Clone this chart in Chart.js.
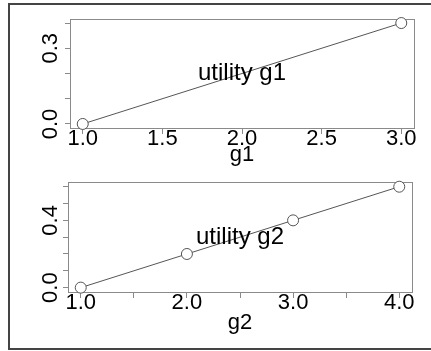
<!DOCTYPE html>
<html>
<head>
<meta charset="utf-8">
<script src="https://cdn.jsdelivr.net/npm/chart.js@4"></script>
<style>
    html, body { margin: 0; padding: 0; background: #fff; overflow: hidden; }
    #wrap { position: relative; width: 431px; height: 351px; }
    #frame {
        position: absolute; left: 8px; top: 3px; width: 440px; height: 347px;
        border-left: 2px solid #444; border-top: 2px solid #444; border-bottom: 2px solid #444;
        box-sizing: border-box;
    }
    canvas { position: absolute; left: 0; }
    #panelG1 { top: 0; }
    #panelG2 { top: 175px; }
</style>
</head>
<body>
<div id="wrap">
    <div id="frame"></div>
    <canvas id="panelG1" width="431" height="175"></canvas>
    <canvas id="panelG2" width="431" height="176"></canvas>
</div>
<script>
// values
const g1Levels = [1.0, 3.0];
const g1Utility = [0.0, 0.4];
const g2Levels = [1.0, 2.0, 3.0, 4.0];
const g2Utility = [0.0, 0.2, 0.4, 0.6];

// axis ticks
const g1XTicks = [1.0, 1.5, 2.0, 2.5, 3.0];
const g1XLabels = ['1.0', '1.5', '2.0', '2.5', '3.0'];
const g1YTicks = [0.0, 0.1, 0.2, 0.3, 0.4];
const g1YLabels = ['0.0', '', '', '0.3', ''];

const g2XTicks = [1.0, 1.5, 2.0, 2.5, 3.0, 3.5, 4.0];
const g2XLabels = ['1.0', '', '2.0', '', '3.0', '', '4.0'];
const g2YTicks = [0.0, 0.1, 0.2, 0.3, 0.4, 0.5, 0.6];
const g2YLabels = ['0.0', '', '', '', '0.4', '', ''];

const FONT = "'Liberation Sans', Arial, Helvetica, sans-serif";
const AXIS_GRAY = '#8a8a8a';

// box round the plot area, rotated y labels and the centred note
const panelDecor = {
    id: 'panelDecor',
    beforeDatasetsDraw(chart, args, opts) {
        const a = chart.chartArea;
        const ctx = chart.ctx;
        ctx.save();
        ctx.strokeStyle = AXIS_GRAY;
        ctx.lineWidth = 1;
        ctx.strokeRect(a.left + 0.5, a.top + 0.5, a.right - a.left, a.bottom - a.top);
        ctx.restore();
    },
    afterDatasetsDraw(chart, args, opts) {
        const a = chart.chartArea;
        const ctx = chart.ctx;
        const yScale = chart.scales.y;
        ctx.save();
        ctx.fillStyle = '#000';
        ctx.font = '22px ' + FONT;
        ctx.textAlign = 'center';
        ctx.textBaseline = 'alphabetic';
        opts.yTicks.forEach((v, i) => {
            const label = opts.yLabels[i];
            if (!label) return;
            const py = yScale.getPixelForValue(v);
            ctx.save();
            ctx.translate(opts.yLabelX, py);
            ctx.rotate(-Math.PI / 2);
            ctx.fillText(label, 0, 0);
            ctx.restore();
        });
        ctx.font = '24px ' + FONT;
        ctx.textBaseline = 'middle';
        ctx.fillText(opts.note, (a.left + a.right) / 2, (a.top + a.bottom) / 2);
        ctx.restore();
    }
};

function makePanel(id, xs, ys, xTicks, xLabels, yTicks, yLabels, xTitle, note, cfg) {
    const ctx = document.getElementById(id).getContext('2d');
    return new Chart(ctx, {
        type: 'scatter',
        data: {
            datasets: [{
                data: xs.map((x, i) => ({x: x, y: ys[i]})),
                showLine: true,
                borderColor: '#555',
                borderWidth: 1,
                pointRadius: 5.5,
                pointBackgroundColor: '#fff',
                pointBorderColor: '#555',
                pointBorderWidth: 1,
                clip: false
            }]
        },
        options: {
            responsive: false,
            animation: false,
            layout: {
                padding: {left: 0, top: cfg.top, right: cfg.right, bottom: 0}
            },
            plugins: {
                legend: {display: false},
                tooltip: {enabled: false},
                panelDecor: {
                    yTicks: yTicks,
                    yLabels: yLabels,
                    yLabelX: 57,
                    note: note
                }
            },
            scales: {
                x: {
                    type: 'linear',
                    min: cfg.xMin,
                    max: cfg.xMax,
                    afterBuildTicks: scale => { scale.ticks = xTicks.map(v => ({value: v})); },
                    afterFit: scale => { scale.height = cfg.xHeight; },
                    grid: {drawOnChartArea: false, drawTicks: true, tickLength: 6, color: AXIS_GRAY},
                    border: {display: true, color: AXIS_GRAY},
                    ticks: {
                        color: '#000',
                        padding: -8,
                        maxRotation: 0,
                        autoSkip: false,
                        font: {family: FONT, size: 22, lineHeight: 1.2},
                        callback: (value, index) => xLabels[index]
                    },
                    title: {
                        display: true,
                        text: xTitle,
                        color: '#000',
                        font: {family: FONT, size: 22, lineHeight: 1.2},
                        padding: {top: 0, bottom: cfg.titlePad}
                    }
                },
                y: {
                    type: 'linear',
                    min: cfg.yMin,
                    max: cfg.yMax,
                    afterBuildTicks: scale => { scale.ticks = yTicks.map(v => ({value: v})); },
                    afterFit: scale => { scale.width = cfg.yWidth; },
                    grid: {drawOnChartArea: false, drawTicks: true, tickLength: 5, color: AXIS_GRAY},
                    border: {display: true, color: AXIS_GRAY},
                    ticks: {display: false}
                }
            }
        },
        plugins: [panelDecor]
    });
}

makePanel('panelG1', g1Levels, g1Utility, g1XTicks, g1XLabels, g1YTicks, g1YLabels, 'g1', 'utility g1', {
    top: 19, right: 17, xHeight: 47, yWidth: 70, titlePad: 7,
    xMin: 0.92, xMax: 3.08, yMin: -0.016, yMax: 0.416
});

makePanel('panelG2', g2Levels, g2Utility, g2XTicks, g2XLabels, g2YTicks, g2YLabels, 'g2', 'utility g2', {
    top: 7, right: 19, xHeight: 59, yWidth: 68, titlePad: 15,
    xMin: 0.88, xMax: 4.12, yMin: -0.026, yMax: 0.628
});
</script>
</body>
</html>
